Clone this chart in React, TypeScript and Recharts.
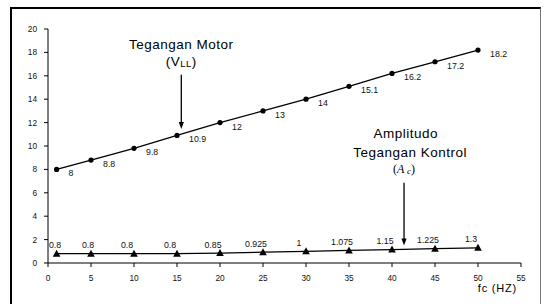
import React from 'react';
import { LineChart, Line, XAxis, YAxis, ReferenceLine, ReferenceDot } from 'recharts';

const freq = [1, 5, 10, 15, 20, 25, 30, 35, 40, 45, 50];
const motorVoltage = [8, 8.8, 9.8, 10.9, 12, 13, 14, 15.1, 16.2, 17.2, 18.2];
const controlAmplitude = [0.8, 0.8, 0.8, 0.8, 0.85, 0.925, 1, 1.075, 1.15, 1.225, 1.3];
const xTicks = [0, 5, 10, 15, 20, 25, 30, 35, 40, 45, 50, 55];
const yTicks = [0, 2, 4, 6, 8, 10, 12, 14, 16, 18, 20];

const motorTitle = 'Tegangan Motor';
const ampTitle1 = 'Amplitudo';
const ampTitle2 = 'Tegangan Kontrol';
const xTitle = 'fc  (HZ)';

const data = freq.map((f, i) => ({ f, motor: motorVoltage[i], amp: controlAmplitude[i] }));

const FONT = '"Liberation Sans", Arial, sans-serif';
const SERIF = '"Liberation Serif", "Times New Roman", serif';

const Triangle = (props: any) => {
  const { cx, cy } = props;
  if (cx == null || cy == null) return null;
  return (
    <polygon
      points={`${cx - 3.8},${cy + 3} ${cx + 3.8},${cy + 3} ${cx},${cy - 4}`}
      fill="#000"
    />
  );
};

const Dot = (props: any) => {
  const { cx, cy } = props;
  if (cx == null || cy == null) return null;
  return <circle cx={cx} cy={cy} r={2.6} fill="#000" />;
};

const MotorLabel = (props: any) => {
  const { x, y, value } = props;
  return (
    <text x={x + 12} y={y + 7} fontSize={8.8} fontFamily={FONT} fill="#111" textAnchor="start">
      {value}
    </text>
  );
};

const AmpLabel = (props: any) => {
  const { x, y, value, index } = props;
  const dx = index === 0 ? -1.5 : index === 1 ? -3 : -7;
  return (
    <text x={x + dx} y={y - 5.5} fontSize={8.8} fontFamily={FONT} fill="#111" textAnchor="middle">
      {value}
    </text>
  );
};

const Arrow = (props: any) => {
  const { x1, y1, x2, y2 } = props;
  if (x1 == null) return null;
  return (
    <g>
      <line x1={x1} y1={y1} x2={x2} y2={y2 - 5} stroke="#000" strokeWidth={1.3} />
      <polygon points={`${x2},${y2} ${x2 - 2.6},${y2 - 7} ${x2 + 2.6},${y2 - 7}`} fill="#000" />
    </g>
  );
};

const textShape = (content: React.ReactNode) => (props: any) => {
  const { cx, cy } = props;
  if (cx == null) return null;
  return (
    <text x={cx} y={cy} textAnchor="middle" fontFamily={FONT} fontSize={13.5} fill="#000" letterSpacing={0.5}>
      {content}
    </text>
  );
};

const XTitle = (props: any) => {
  const vb = props.viewBox || {};
  return (
    <text
      x={vb.x + vb.width - 4}
      y={vb.y + 29}
      textAnchor="end"
      fontFamily={FONT}
      fontSize={11}
      letterSpacing={0.8}
      fill="#000"
    >
      {xTitle}
    </text>
  );
};

export default function App() {
  return (
    <div style={{ position: 'absolute', left: 0, top: 0, width: 544, height: 304, background: '#fff', overflow: 'hidden' }}>
      <div
        style={{
          position: 'absolute',
          left: 10,
          top: 7,
          width: 528,
          height: 320,
          borderLeft: '2px solid #000',
          borderTop: '2px solid #000',
          borderRight: '1px solid #777',
        }}
      />
      <div style={{ position: 'absolute', left: 0, top: 0 }}>
        <LineChart
          width={544}
          height={304}
          data={data}
          margin={{ top: 29, right: 23, bottom: 7, left: 8 }}
        >
          <XAxis
            dataKey="f"
            type="number"
            domain={[0, 55]}
            ticks={xTicks}
            allowDataOverflow
            axisLine={{ stroke: '#000', strokeWidth: 1 }}
            tickLine={{ stroke: '#000' }}
            tickSize={4}
            tickMargin={8}
            height={34}
            tick={{ fontSize: 8.3, fontFamily: FONT, fill: '#111' }}
            label={<XTitle />}
          />
          <YAxis
            type="number"
            domain={[0, 20]}
            ticks={yTicks}
            width={40}
            axisLine={{ stroke: '#000', strokeWidth: 1 }}
            tickLine={{ stroke: '#000' }}
            tickSize={4}
            tickMargin={7}
            tick={{ fontSize: 8.3, fontFamily: FONT, fill: '#111' }}
          />
          <Line
            dataKey="motor"
            stroke="#000"
            strokeWidth={1.3}
            dot={<Dot />}
            activeDot={false}
            isAnimationActive={false}
            label={<MotorLabel />}
          />
          <Line
            dataKey="amp"
            stroke="#000"
            strokeWidth={1.3}
            dot={<Triangle />}
            activeDot={false}
            isAnimationActive={false}
            label={<AmpLabel />}
          />
          <ReferenceLine
            segment={[{ x: 15.5, y: 16.1 }, { x: 15.5, y: 11.45 }]}
            shape={<Arrow />}
          />
          <ReferenceLine
            segment={[{ x: 41.4, y: 6.85 }, { x: 41.4, y: 1.5 }]}
            shape={<Arrow />}
          />
          <ReferenceDot x={15.5} y={18.3} r={0} shape={textShape(motorTitle)} />
          <ReferenceDot
            x={15.5}
            y={16.85}
            r={0}
            shape={textShape(
              <>
                (V<tspan fontSize={9.5} dy={1.5}>LL</tspan>
                <tspan dy={-1.5}>)</tspan>
              </>
            )}
          />
          <ReferenceDot x={41.6} y={10.7} r={0} shape={textShape(ampTitle1)} />
          <ReferenceDot x={42.1} y={9.06} r={0} shape={textShape(ampTitle2)} />
          <ReferenceDot
            x={41.4}
            y={7.7}
            r={0}
            shape={(p: any) =>
              p.cx == null ? null : (
                <text x={p.cx} y={p.cy} textAnchor="middle" fontFamily={SERIF} fontSize={12} fill="#000">
                  (<tspan fontStyle="italic">A</tspan>
                  <tspan fontStyle="italic" fontSize={9} dx={2.5} dy={1}>c</tspan>
                  <tspan dy={-1}>)</tspan>
                </text>
              )
            }
          />
        </LineChart>
      </div>
    </div>
  );
}
